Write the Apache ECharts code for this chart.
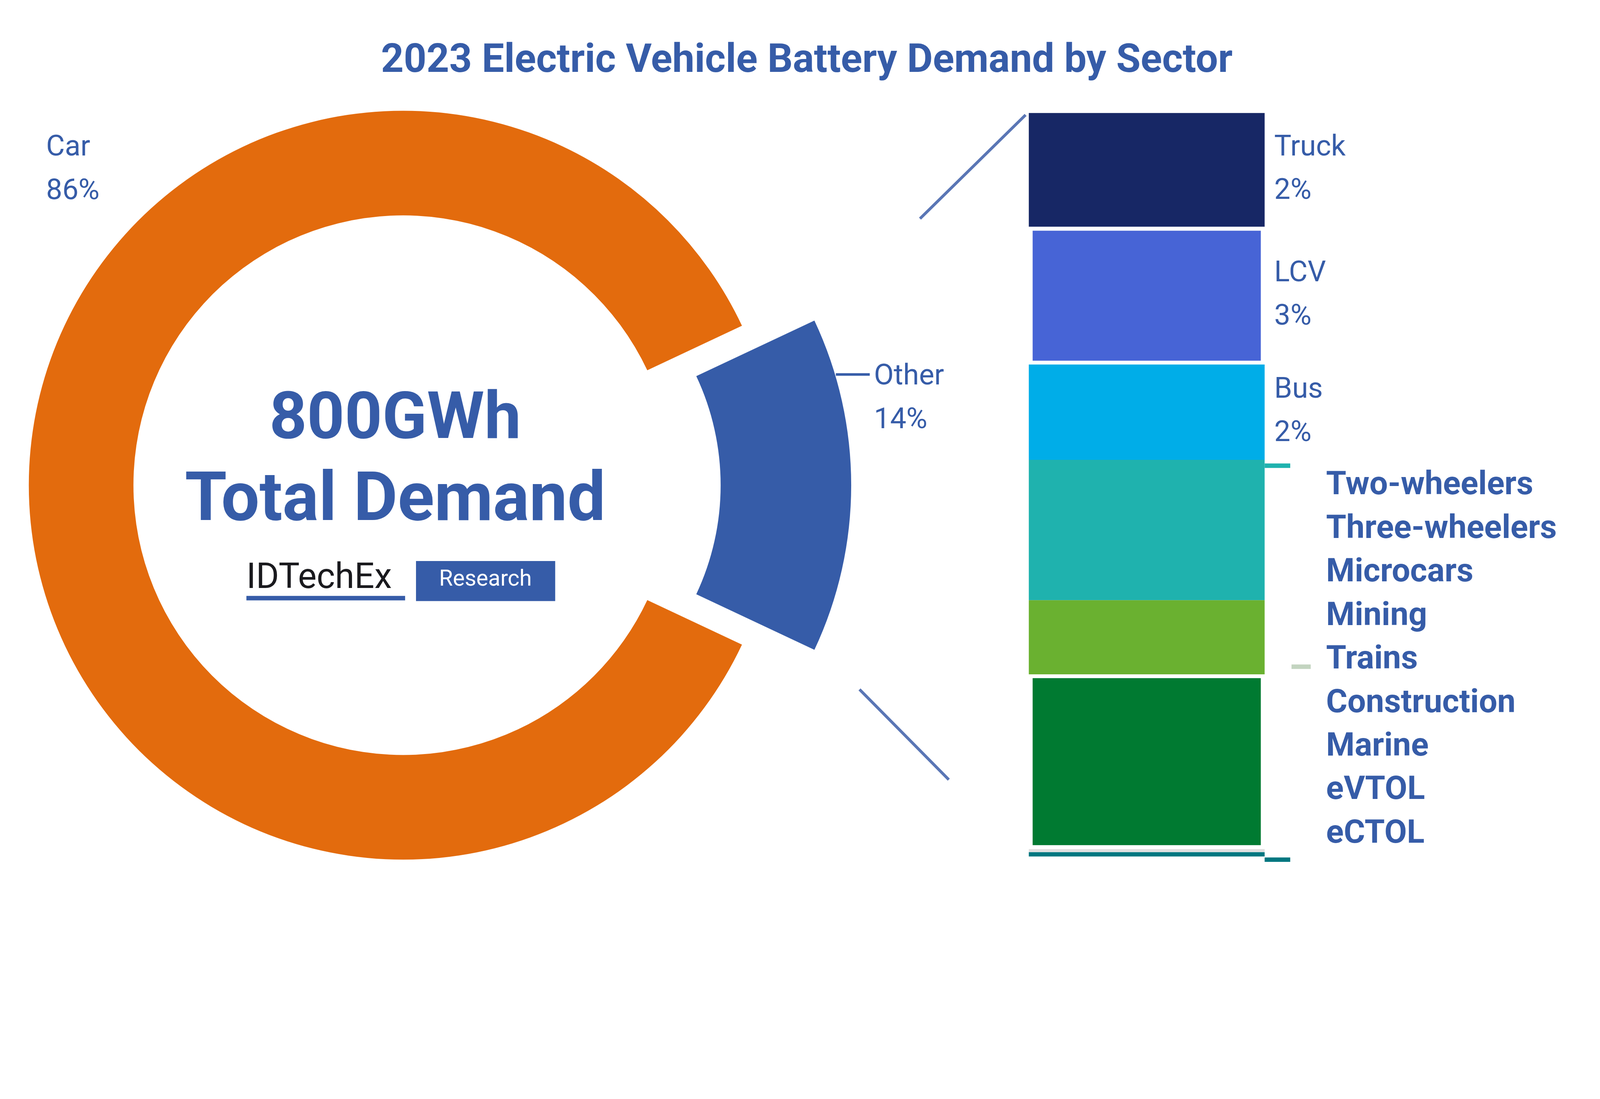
<!DOCTYPE html>
<html>
<head>
<meta charset="utf-8">
<script src="https://cdn.jsdelivr.net/npm/echarts@6/dist/echarts.min.js"></script>
<style>html,body{margin:0;padding:0;background:#fff;overflow:hidden}#main{width:100vw;height:100vh}</style>
</head>
<body>
<div id="main"></div>
<script>
// donut data
var pieNames = ['Car', 'Other'];
var pieValues = [86, 14];
var pieColors = ['#e36b0d', '#365ca8'];

// breakdown of "Other" (segment heights)
var barNames = ['Truck', 'LCV', 'Bus', 'Two/Three-wheelers, Microcars', 'Mining, Trains', 'Construction', 'Marine', 'eVTOL/eCTOL'];
var barValues = [2.15, 2.6, 1.8, 2.65, 1.4, 3.3, 0.06, 0.08];
var barColors = ['#172765', '#4764d6', '#00ade8', '#1fb2ae', '#6ab130', '#007a31', '#e0e0e0', '#007780'];
var barPct = ['2%', '3%', '2%', '', '', '', '', ''];

// list on the right
var listNames = ['Two-wheelers', 'Three-wheelers', 'Microcars', 'Mining', 'Trains', 'Construction', 'Marine', 'eVTOL', 'eCTOL'];

var blue = '#365ca8';
var font = 'Roboto, "Liberation Sans", sans-serif';

var chart = echarts.init(document.getElementById('main'));
var s = chart.getWidth() / 5000;   // layout designed on a 5000px wide canvas
function p(v) { return v * s; }

var total = barValues.reduce(function (a, b) { return a + b; }, 0);

var barSeries = barNames.map(function (n, i) {
  var bordered = (i === 1 || i === 5);
  return {
    name: n, type: 'bar', stack: 'other', barWidth: '100%',
    data: [{
      value: barValues[i],
      itemStyle: {color: barColors[i], borderColor: '#fff', borderWidth: bordered ? p(12) : 0}
    }],
    label: {
      show: barPct[i] !== '', position: 'right', distance: p(30),
      formatter: n + '\n' + barPct[i], color: blue,
      fontFamily: font, fontSize: p(90), lineHeight: p(135), align: 'left'
    },
    silent: true
  };
});

var listGraphics = listNames.map(function (n, i) {
  return {
    type: 'text', x: p(4144), y: p(1468 + i * 136),
    style: {text: n, fill: blue, font: 'bold ' + p(102) + 'px ' + font}
  };
});

function line(x1, y1, x2, y2, c, w) {
  return {type: 'line', shape: {x1: p(x1), y1: p(y1), x2: p(x2), y2: p(y2)}, style: {stroke: c, lineWidth: p(w)}};
}

chart.setOption({
  animation: false,
  title: {
    text: '2023 Electric Vehicle Battery Demand by Sector',
    left: p(2515), top: p(125), textAlign: 'center',
    textStyle: {color: blue, fontFamily: font, fontWeight: 'bold', fontSize: p(124)}
  },
  grid: {left: p(3215), top: p(353), width: p(737), height: p(2323)},
  xAxis: {type: 'category', data: ['Other'], show: false},
  yAxis: {type: 'value', min: 0, max: total, inverse: true, show: false},
  series: [{
    type: 'pie', center: [p(1260), p(1516)], radius: [p(843), p(1170)],
    startAngle: -25.2, clockwise: true, silent: true,
    label: {show: false},
    data: pieNames.map(function (n, i) {
      return {name: n, value: pieValues[i],
        itemStyle: {color: i === 0 ? pieColors[0] : 'rgba(0,0,0,0)'}};
    })
  }, {
    type: 'pie', center: [p(1452), p(1516)], radius: [p(800), p(1208)],
    startAngle: -25.2, clockwise: true, silent: true,
    label: {show: false},
    data: pieNames.map(function (n, i) {
      return {name: n, value: pieValues[i],
        itemStyle: {color: i === 1 ? pieColors[1] : 'rgba(0,0,0,0)'}};
    })
  }].concat(barSeries),
  graphic: [
    {type: 'text', x: p(144), y: p(395),
      style: {text: pieNames[0] + '\n' + pieValues[0] + '%', fill: blue, font: p(90) + 'px ' + font, lineHeight: p(137)}},
    {type: 'text', x: p(2731), y: p(1110),
      style: {text: pieNames[1] + '\n' + pieValues[1] + '%', fill: blue, font: p(90) + 'px ' + font, lineHeight: p(137)}},
    line(2612, 1170, 2718, 1170, blue, 8),
    line(2875, 683, 3205, 359, '#5a76b5', 9),
    line(2686, 2154, 2965, 2436, '#5a76b5', 9),
    line(3952, 1455, 4032, 1455, '#1fb2ae', 14),
    line(4036, 2083, 4096, 2083, '#c3d4c0', 14),
    line(3952, 2686, 4032, 2686, '#007780', 14),
    {type: 'text', x: p(1235), y: p(1215),
      style: {text: '800GWh', fill: blue, font: 'bold ' + p(205) + 'px ' + font, align: 'center'}},
    {type: 'text', x: p(1235), y: p(1465),
      style: {text: 'Total Demand', fill: blue, font: 'bold ' + p(212) + 'px ' + font, align: 'center'}},
    {type: 'text', x: p(770), y: p(1755),
      style: {text: 'IDTechEx', fill: '#1a1a1e', font: p(110) + 'px ' + font}},
    {type: 'rect', shape: {x: p(770), y: p(1862), width: p(496), height: p(14)}, style: {fill: blue}},
    {type: 'rect', shape: {x: p(1300), y: p(1753), width: p(435), height: p(125)}, style: {fill: blue}},
    {type: 'text', x: p(1517), y: p(1778),
      style: {text: 'Research', fill: '#fff', font: p(70) + 'px ' + font, align: 'center'}}
  ].concat(listGraphics)
});
</script>
</body>
</html>
